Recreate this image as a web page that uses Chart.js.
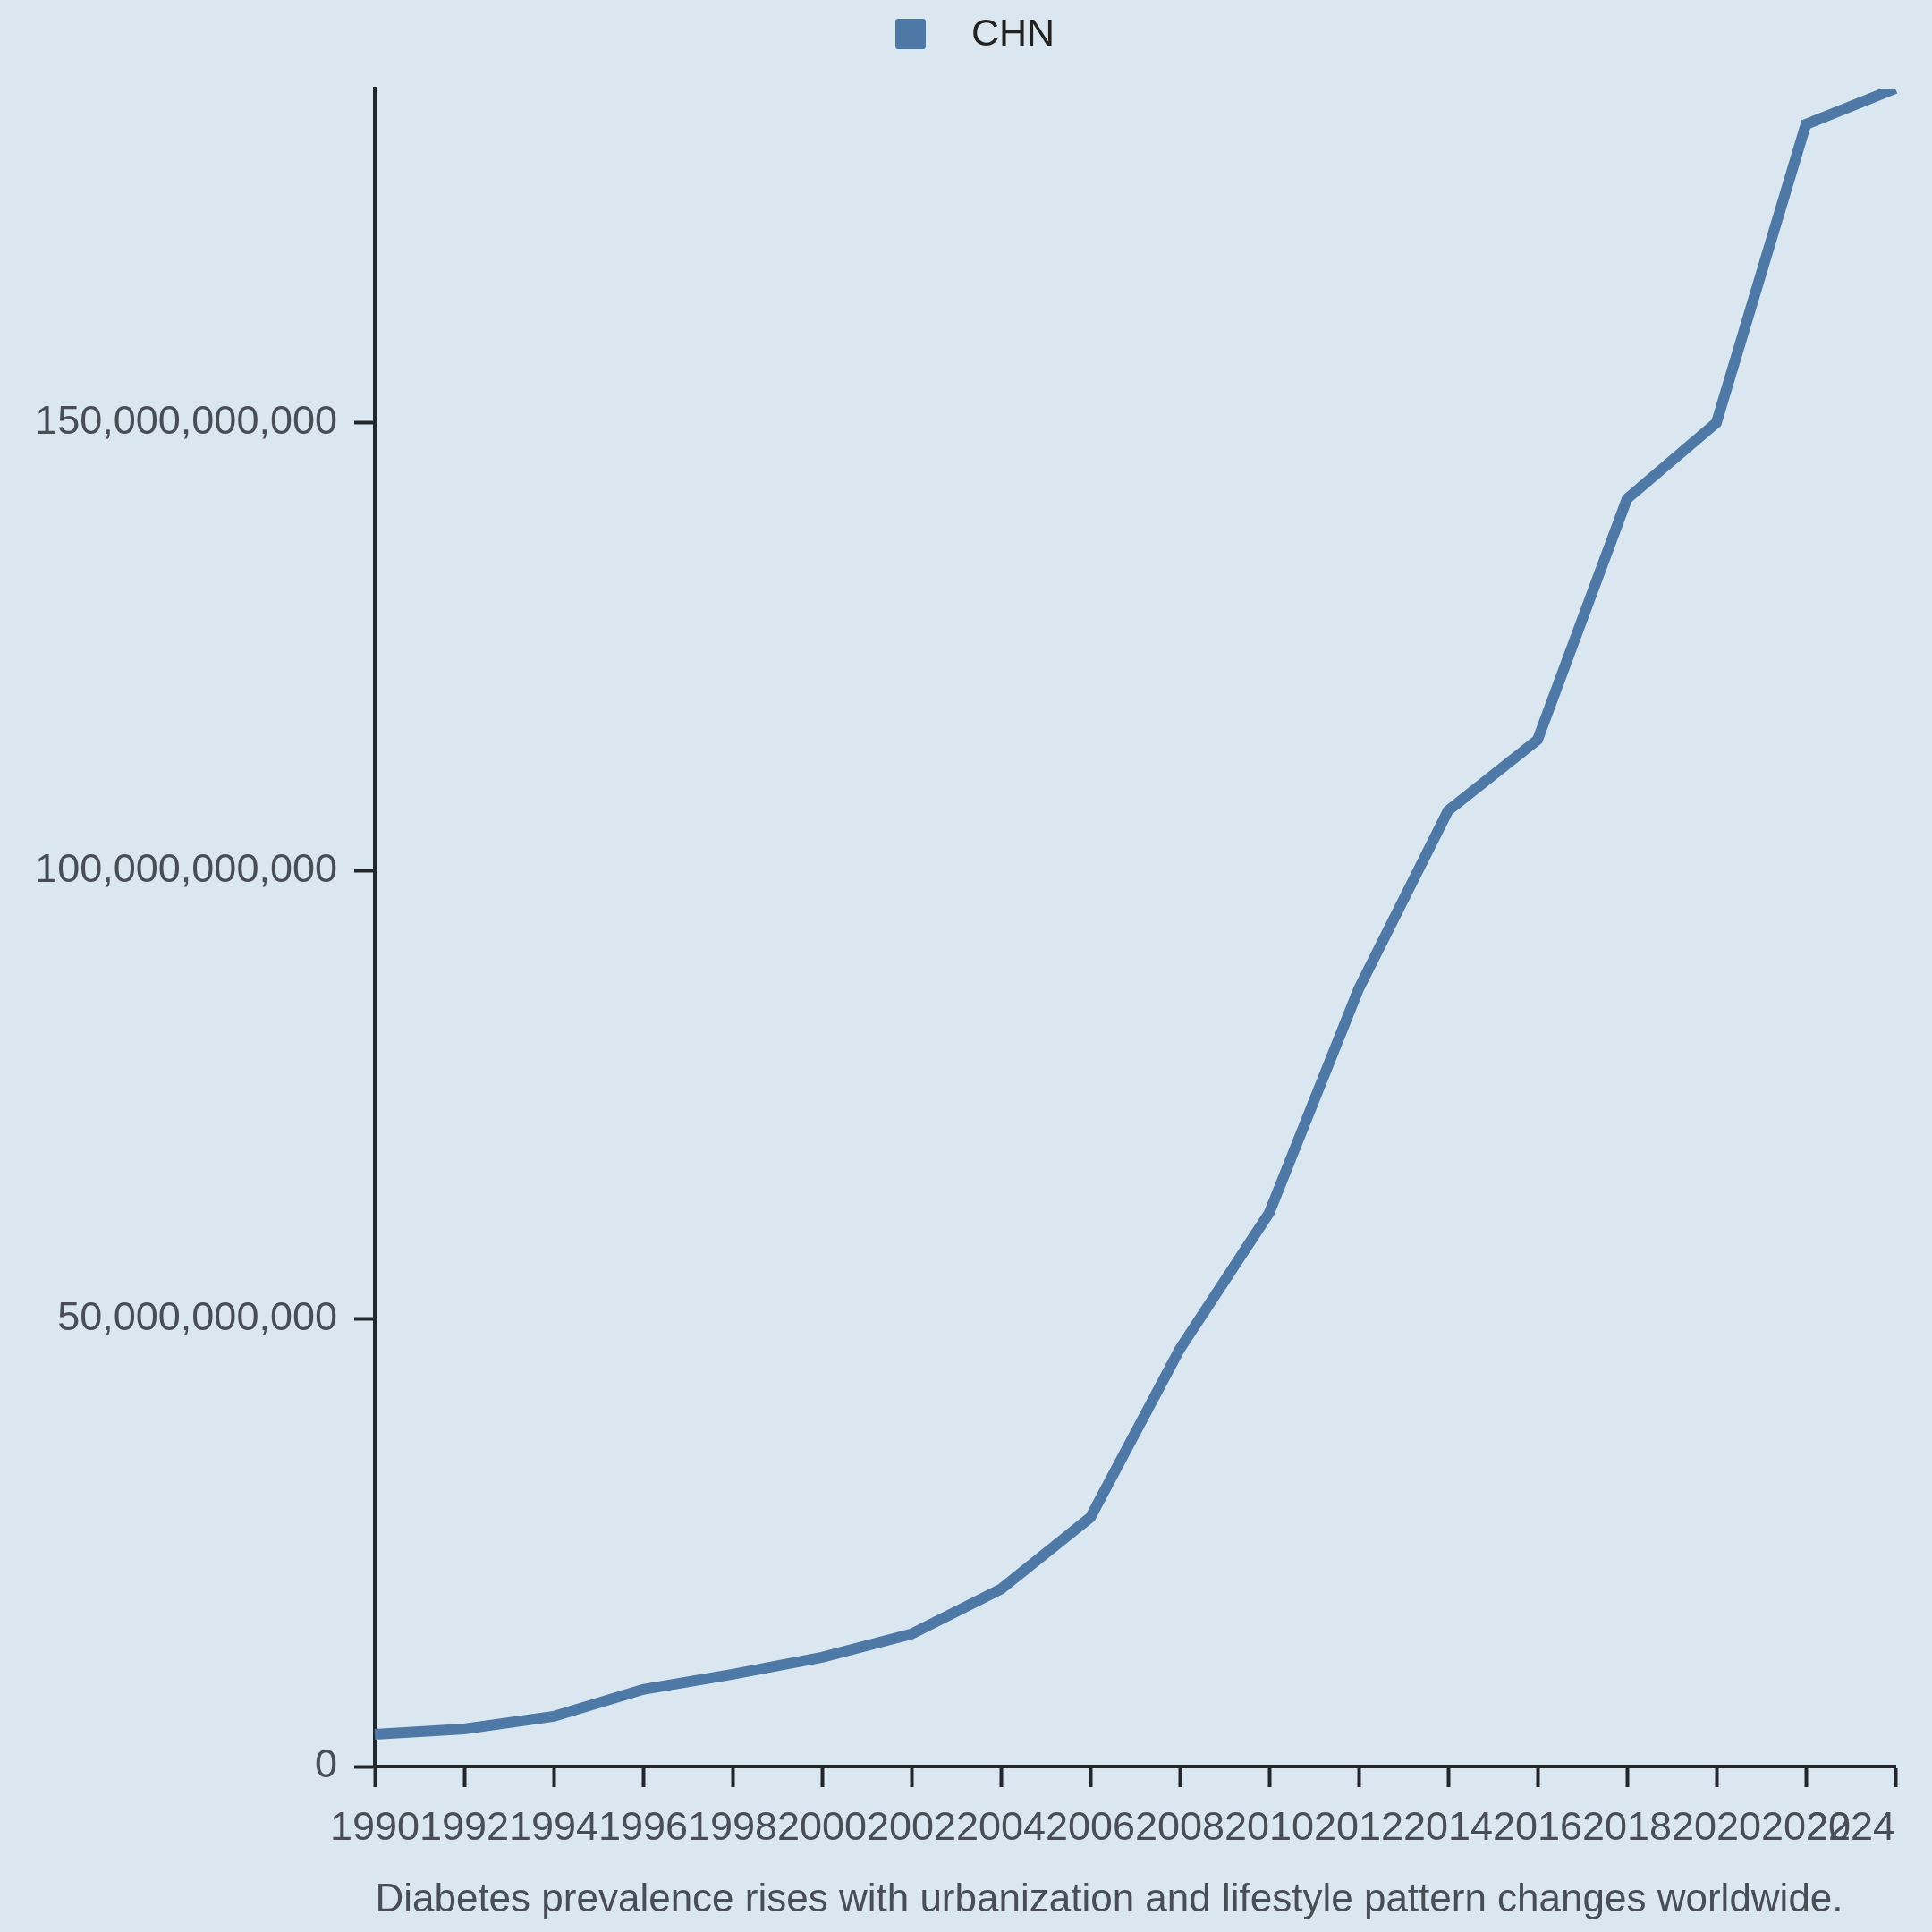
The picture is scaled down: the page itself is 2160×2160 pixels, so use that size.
<!DOCTYPE html>
<html lang="en">
<head>
    <meta charset="UTF-8">
    <title>CHN</title>
    <style>
        * {
            margin: 0;
            padding: 0;
            box-sizing: border-box;
        }

        body {
            background: #dae7f0;
        }

        /* fixed-size box, the chart fills it */
        .chart-box {
            width: 2160px;
            height: 2160px;
            position: relative;
        }
    </style>
    <script src="https://cdn.jsdelivr.net/npm/chart.js"></script>
</head>
<body>
    <div class="chart-box">
        <canvas id="chnChart"></canvas>
    </div>
    <script>
        // Data
        const years = ['1990', '1992', '1994', '1996', '1998', '2000', '2002', '2004', '2006',
                       '2008', '2010', '2012', '2014', '2016', '2018', '2020', '2022', '2024'];
        const chnValues = [3.6e9, 4.2e9, 5.6e9, 8.6e9, 10.3e9, 12.2e9, 14.8e9, 19.8e9, 27.8e9,
                           46.6e9, 61.8e9, 86.8e9, 106.7e9, 114.6e9, 141.5e9, 150.0e9, 183.3e9, 187.3e9];
        const yTickValues = [0, 50e9, 100e9, 150e9];
        const seriesLabel = 'CHN';
        const caption = 'Diabetes prevalence rises with urbanization and lifestyle pattern changes worldwide.';

        const lineColor = '#4e79a7';
        const axisColor = '#23262b';
        const labelColor = '#494e56';
        const fontFamily = '"Liberation Sans", Arial, sans-serif';

        // last x label sits flush with the end of the axis, like the reference
        const flushLastLabel = {
            id: 'flushLastLabel',
            beforeDraw(chart) {
                const items = chart.scales.x.getLabelItems();
                if (items.length) {
                    items[items.length - 1].options.textAlign = 'right';
                }
            }
        };

        // legend on top and caption underneath
        const legendAndCaption = {
            id: 'legendAndCaption',
            afterDraw(chart) {
                const ctx = chart.ctx;
                ctx.save();
                ctx.fillStyle = lineColor;
                ctx.beginPath();
                ctx.roundRect(1001, 21, 34, 34, 3);
                ctx.fill();

                ctx.fillStyle = '#222';
                ctx.font = '43px ' + fontFamily;
                ctx.textAlign = 'left';
                ctx.textBaseline = 'middle';
                ctx.fillText(chart.data.datasets[0].label, 1086, 39);

                ctx.fillStyle = labelColor;
                ctx.font = '44px ' + fontFamily;
                ctx.textAlign = 'center';
                ctx.fillText(caption, 1240, 2125);
                ctx.restore();
            }
        };

        const ctxChn = document.getElementById('chnChart').getContext('2d');
        new Chart(ctxChn, {
            type: 'line',
            data: {
                labels: years,
                datasets: [{
                    label: seriesLabel,
                    data: chnValues,
                    borderColor: lineColor,
                    backgroundColor: lineColor,
                    borderWidth: 12,
                    borderJoinStyle: 'miter',
                    pointRadius: 0,
                    fill: false,
                    tension: 0
                }]
            },
            options: {
                responsive: true,
                maintainAspectRatio: false,
                devicePixelRatio: 1,
                animation: false,
                layout: {
                    padding: { top: 99, right: 41, bottom: 0, left: 0 }
                },
                plugins: {
                    legend: { display: false },
                    tooltip: { enabled: false }
                },
                scales: {
                    x: {
                        border: { display: true, color: axisColor, width: 4 },
                        grid: {
                            display: true,
                            drawOnChartArea: false,
                            drawTicks: true,
                            tickLength: 23,
                            tickWidth: 4,
                            tickColor: axisColor
                        },
                        ticks: {
                            autoSkip: false,
                            maxRotation: 0,
                            minRotation: 0,
                            padding: 20,
                            color: labelColor,
                            font: { family: fontFamily, size: 45 }
                        },
                        afterFit(scale) {
                            scale.height = 185;
                            scale.paddingLeft = 0;
                            scale.paddingRight = 0;
                        }
                    },
                    y: {
                        min: 0,
                        max: Math.max(...chnValues),
                        bounds: 'data',
                        border: { display: true, color: axisColor, width: 4 },
                        grid: {
                            display: true,
                            drawOnChartArea: false,
                            drawTicks: true,
                            tickLength: 23,
                            tickWidth: 4,
                            tickColor: axisColor
                        },
                        ticks: {
                            padding: 19,
                            color: labelColor,
                            font: { family: fontFamily, size: 45 },
                            callback: value => value.toLocaleString('en-US')
                        },
                        afterBuildTicks(scale) {
                            scale.ticks = yTickValues.map(v => ({ value: v }));
                        },
                        afterFit(scale) {
                            scale.width = 419;
                            scale.paddingTop = 0;
                        }
                    }
                }
            },
            plugins: [flushLastLabel, legendAndCaption]
        });
    </script>
</body>
</html>
